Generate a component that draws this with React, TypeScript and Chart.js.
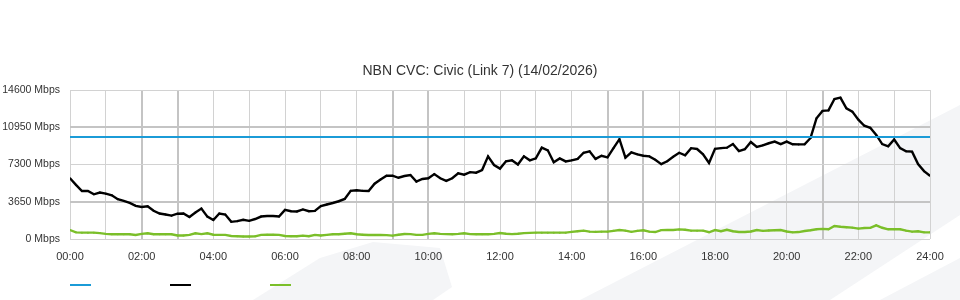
import React, { useEffect, useRef } from 'react';
import { Chart, registerables } from 'chart.js';

Chart.register(...registerables);

const TITLE = 'NBN CVC: Civic (Link 7) (14/02/2026)';
const Y_MAX = 14600;
const Y_STEP = 3650;
const CAPACITY_MBPS = 10000;

// Traffic (Mbps) every 10 minutes, 00:00 .. 24:00
const TRAFFIC = [
  5950, 5300, 4700, 4700, 4380, 4550, 4440, 4280, 3900, 3730, 3530, 3250,
  3140, 3200, 2760, 2500, 2400, 2290, 2480, 2500, 2150, 2590, 2980, 2190,
  1860, 2500, 2400, 1680, 1750, 1880, 1780, 1960, 2200, 2250, 2250, 2200,
  2850, 2720, 2700, 2900, 2720, 2750, 3220, 3380, 3530, 3700, 3920, 4720,
  4770, 4720, 4700, 5420, 5830, 6200, 6200, 6000, 6170, 6270, 5620, 5880,
  5950, 6360, 5950, 5700, 5950, 6440, 6300, 6550, 6500, 6760, 8100, 7250,
  6900, 7620, 7720, 7300, 8100, 7710, 7900, 8950, 8690, 7520, 7900, 7600,
  7710, 7850, 8450, 8600, 7850, 8160, 8000, 8900, 9780, 7970, 8500, 8300,
  8160, 8100, 7770, 7330, 7620, 8050, 8450, 8200, 8900, 8820, 8300, 7450,
  8840, 8900, 8950, 9300, 8620, 8800, 9500, 9020, 9180, 9380, 9540, 9300,
  9550, 9280, 9270, 9280, 9900, 11830, 12550, 12600, 13720, 13850, 12800, 12480,
  11700, 11100, 10900, 10200, 9300, 9080, 9750, 8900, 8600, 8560, 7350, 6650,
  6200,
];

// Second series (Mbps) every 10 minutes
const SECONDARY = [
  880, 650, 620, 620, 620, 580, 500, 460, 460, 460, 460, 400,
  500, 560, 460, 460, 460, 460, 350, 350, 400, 560, 480, 560,
  420, 400, 400, 290, 270, 250, 250, 260, 400, 420, 420, 400,
  290, 270, 270, 330, 270, 400, 350, 400, 460, 460, 520, 560,
  460, 420, 390, 390, 390, 380, 330, 420, 490, 480, 400, 400,
  500, 560, 500, 480, 460, 500, 560, 480, 460, 460, 460, 500,
  590, 520, 480, 520, 580, 600, 620, 620, 620, 620, 620, 620,
  700, 760, 820, 720, 700, 720, 720, 800, 880, 820, 700, 800,
  860, 720, 680, 870, 880, 880, 940, 900, 820, 820, 820, 660,
  880, 760, 900, 760, 690, 690, 740, 880, 800, 830, 860, 880,
  740, 650, 680, 780, 860, 960, 990, 950, 1270, 1200, 1150, 1110,
  1020, 1080, 1090, 1340, 1100, 950, 950, 950, 820, 720, 760, 650,
  650,
];

const TIMES = TRAFFIC.map((_, i) => i * 10);

const BLUE = '#1b9bd7';
const BLACK = '#000000';
const GREEN = '#7bbf2a';
const GRID = '#d2d2d2';
const GRID_DARK = '#c4c4c4';
const TEXT = '#333333';
const DARK_X = [120, 180, 540, 600, 900, 960, 1260];
const DARK_Y = [3650, 10950];

const backgroundPlugin = {
  id: 'bgShapes',
  beforeDraw(chart: any) {
    const { ctx, width, height } = chart;
    ctx.save();
    ctx.fillStyle = '#ffffff';
    ctx.fillRect(0, 0, width, height);
    ctx.fillStyle = '#f4f5f7';
    ctx.beginPath();
    ctx.moveTo(253, 300);
    ctx.lineTo(320, 258);
    ctx.lineTo(373, 242);
    ctx.lineTo(440, 248);
    ctx.lineTo(452, 287);
    ctx.lineTo(433, 300);
    ctx.closePath();
    ctx.fill();
    ctx.beginPath();
    ctx.moveTo(580, 300);
    ctx.lineTo(960, 105);
    ctx.lineTo(960, 215);
    ctx.lineTo(830, 300);
    ctx.closePath();
    ctx.fill();
    ctx.beginPath();
    ctx.moveTo(880, 300);
    ctx.lineTo(960, 258);
    ctx.lineTo(960, 300);
    ctx.closePath();
    ctx.fill();
    ctx.restore();
  },
};

const legendPlugin = {
  id: 'lineLegend',
  afterDraw(chart: any) {
    const { ctx, chartArea } = chart;
    const colors = chart.data.datasets.map((d: any) => d.borderColor);
    ctx.save();
    ctx.lineWidth = 2;
    colors.forEach((c: string, i: number) => {
      const x = chartArea.left + i * 100;
      ctx.strokeStyle = c;
      ctx.beginPath();
      ctx.moveTo(x, 285);
      ctx.lineTo(x + 21, 285);
      ctx.stroke();
    });
    ctx.restore();
  },
};

export default function App() {
  const ref = useRef<HTMLCanvasElement | null>(null);

  useEffect(() => {
    document.body.style.margin = '0';
    const canvas = ref.current;
    if (!canvas) return;
    Chart.defaults.font.family = "'Liberation Sans', Arial, sans-serif";
    Chart.defaults.color = TEXT;
    const chart = new Chart(canvas, {
      type: 'line',
      data: {
        datasets: [
          {
            label: 'Capacity',
            data: [
              { x: 0, y: CAPACITY_MBPS },
              { x: 1440, y: CAPACITY_MBPS },
            ],
            borderColor: BLUE,
            backgroundColor: BLUE,
            borderWidth: 2,
            pointRadius: 0,
          },
          {
            label: 'Traffic',
            data: TRAFFIC.map((v, i) => ({ x: TIMES[i], y: v })),
            borderColor: BLACK,
            backgroundColor: BLACK,
            borderWidth: 2.4,
            pointRadius: 1,
            pointBorderWidth: 0,
          },
          {
            label: 'Other',
            data: SECONDARY.map((v, i) => ({ x: TIMES[i], y: v })),
            borderColor: GREEN,
            backgroundColor: GREEN,
            borderWidth: 2.4,
            pointRadius: 1,
            pointBorderWidth: 0,
          },
        ],
      },
      options: {
        animation: false,
        responsive: false,
        layout: { padding: { top: 50, left: 0, right: 0, bottom: 36 } },
        plugins: {
          legend: { display: false },
          tooltip: { enabled: false },
          title: {
            display: true,
            text: TITLE,
            color: TEXT,
            font: { size: 14, weight: 'normal' },
            padding: { top: 13, bottom: 10.2 },
          },
        },
        scales: {
          x: {
            type: 'linear',
            min: 0,
            max: 1440,
            afterFit: (s: any) => {
              s.height = 25;
            },
            ticks: {
              stepSize: 60,
              autoSkip: false,
              maxRotation: 0,
              padding: 11,
              font: { size: 11 },
              color: TEXT,
              callback: (v: any) => {
                const m = Number(v);
                if (m % 120 !== 0) return '';
                const h = Math.round(m / 60);
                return (h < 10 ? '0' : '') + h + ':00';
              },
            },
            grid: {
              drawTicks: false,
              color: (c: any) => (DARK_X.includes(c.tick?.value) ? GRID_DARK : GRID),
              lineWidth: (c: any) => (DARK_X.includes(c.tick?.value) ? 2 : 1),
            },
            border: { display: false },
          },
          y: {
            min: 0,
            max: Y_MAX,
            afterFit: (s: any) => {
              s.width = 70;
            },
            ticks: {
              stepSize: Y_STEP,
              padding: 10,
              font: { size: 10.5 },
              color: TEXT,
              callback: (v: any) => String(v) + ' Mbps',
            },
            grid: {
              drawTicks: false,
              color: (c: any) => (DARK_Y.includes(c.tick?.value) ? GRID_DARK : GRID),
              lineWidth: (c: any) => (DARK_Y.includes(c.tick?.value) ? 2 : 1),
            },
            border: { display: false },
          },
          yRight: {
            position: 'right',
            min: 0,
            max: Y_MAX,
            afterFit: (s: any) => {
              s.width = 30;
            },
            ticks: { display: false },
            grid: { display: false, drawTicks: false },
            border: { display: false },
          },
        },
      },
      plugins: [backgroundPlugin, legendPlugin],
    });
    return () => chart.destroy();
  }, []);

  return (
    <div style={{ width: 960, height: 300 }}>
      <canvas ref={ref} width={960} height={300} style={{ display: 'block' }} />
    </div>
  );
}
